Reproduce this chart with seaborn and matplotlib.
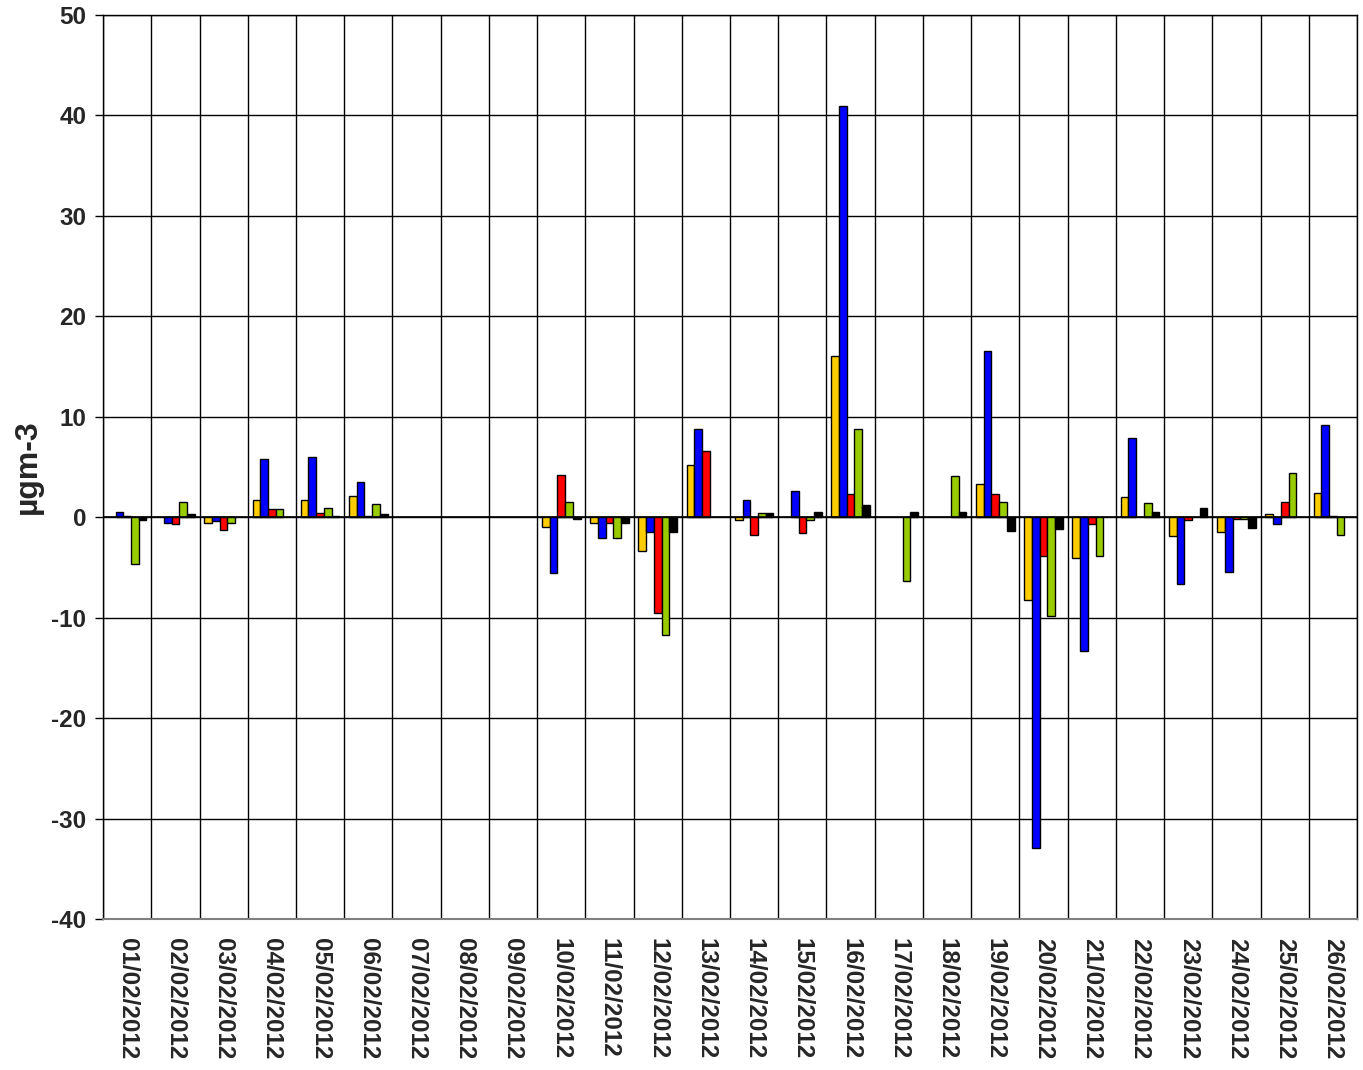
import numpy as np
import pandas as pd
import matplotlib
matplotlib.use("Agg")
import matplotlib.pyplot as plt
import seaborn as sns

sns.set_theme(style="white")
plt.rcParams['font.family'] = ['Liberation Sans', 'DejaVu Sans']

dates = ["01/02/2012", "02/02/2012", "03/02/2012", "04/02/2012", "05/02/2012",
         "06/02/2012", "07/02/2012", "08/02/2012", "09/02/2012", "10/02/2012",
         "11/02/2012", "12/02/2012", "13/02/2012", "14/02/2012", "15/02/2012",
         "16/02/2012", "17/02/2012", "18/02/2012", "19/02/2012", "20/02/2012",
         "21/02/2012", "22/02/2012", "23/02/2012", "24/02/2012", "25/02/2012",
         "26/02/2012"]

nan = np.nan
series_yellow = [nan, nan, -0.6, 1.7, 1.7, 2.15, nan, nan, nan, -1.0,
                 -0.57, -3.33, 5.17, -0.27, nan, 16.06, nan, nan, 3.3, -8.24,
                 -4.05, 1.98, -1.9, -1.45, 0.33, 2.4]
series_blue = [0.5, -0.6, -0.4, 5.8, 5.95, 3.55, nan, nan, nan, -5.6,
               -2.1, -1.5, 8.83, 1.73, 2.63, 40.9, nan, nan, 16.5, -32.9,
               -13.3, 7.85, -6.6, -5.5, -0.72, 9.2]
series_red = [0.15, -0.7, -1.3, 0.8, 0.45, 0.15, nan, nan, nan, 4.23,
              -0.57, -9.53, 6.6, -1.8, -1.6, 2.3, nan, nan, 2.3, -3.9,
              -0.72, nan, -0.26, -0.15, 1.52, 0.16]
series_green = [-4.7, 1.55, -0.6, 0.8, 0.9, 1.35, nan, nan, nan, 1.5,
                -2.1, -11.7, nan, 0.47, -0.23, 8.77, -6.35, 4.14, 1.56, -9.8,
                -3.9, 1.38, nan, -0.15, 4.38, -1.8]
series_black = [-0.3, 0.3, nan, nan, 0.15, 0.3, nan, nan, nan, -0.15,
                -0.6, -1.5, nan, 0.47, 0.5, 1.23, 0.5, 0.5, -1.4, -1.2,
                nan, 0.5, 0.92, -1.05, nan, nan]

series_names = ["S1", "S2", "S3", "S4", "S5"]
series_colors = ["#FFCC00", "#0000FF", "#FF0000", "#99CC00", "#000000"]
yticks = [-40, -30, -20, -10, 0, 10, 20, 30, 40, 50]

rows = []
for name, vals in zip(series_names,
                      [series_yellow, series_blue, series_red, series_green, series_black]):
    for d, v in zip(dates, vals):
        rows.append({"date": d, "series": name, "value": v})
df = pd.DataFrame(rows)

fig = plt.figure(figsize=(13.63, 10.70), dpi=100)
ax = fig.add_axes([0.0756, 0.1411, 0.9956 - 0.0756, 0.986 - 0.1411])

sns.barplot(data=df, x="date", y="value", hue="series", order=dates,
            hue_order=series_names, palette=series_colors, width=0.8,
            saturation=1, edgecolor="black", linewidth=1.0, legend=False,
            ax=ax, errorbar=None, zorder=3)

n = len(dates)
ax.set_xlim(-0.5, n - 0.5)
ax.set_ylim(-40, 50)
ax.set_yticks(yticks)
ax.set_yticklabels([str(t) for t in yticks], fontsize=17.5, fontweight="bold")

ax.set_xticks(range(n))
ax.set_xticklabels(dates, rotation=-90, fontsize=17.5, fontweight="bold",
                   va="top", ha="center")
ax.tick_params(axis="x", which="both", length=0, pad=14)
ax.tick_params(axis="y", which="major", direction="out", length=6, width=1,
               color="black", left=True, pad=6)

for yv in yticks:
    ax.axhline(yv, color="black", linewidth=1.0, zorder=1)
for xv in np.arange(-0.5, n, 1.0):
    ax.axvline(xv, color="black", linewidth=1.0, zorder=1)
ax.axhline(0, color="black", linewidth=1.2, zorder=4)

ax.set_xlabel("")
ax.set_ylabel("µgm-3", fontsize=23, fontweight="bold", labelpad=6)

for side in ["top", "right", "left"]:
    ax.spines[side].set_visible(True)
    ax.spines[side].set_color("black")
    ax.spines[side].set_linewidth(1.0)
ax.spines["bottom"].set_color("#808080")
ax.spines["bottom"].set_linewidth(1.5)

fig.savefig("out.png", dpi=100, facecolor="white")
